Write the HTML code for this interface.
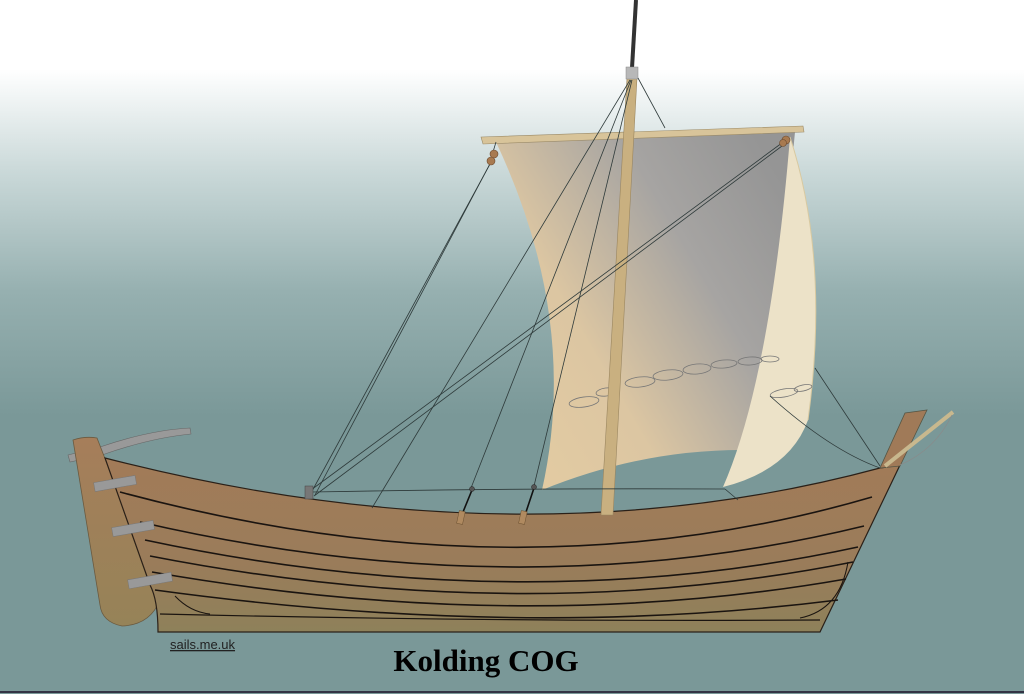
<!DOCTYPE html>
<html><head><meta charset="utf-8"><style>html,body{margin:0;padding:0;background:#7a9898}svg{display:block}</style></head>
<body>
<svg width="1024" height="694" viewBox="0 0 1024 694" xmlns="http://www.w3.org/2000/svg">
<defs>
<linearGradient id="sky" x1="0" y1="0" x2="0" y2="1">
<stop offset="0" stop-color="#ffffff"/>
<stop offset="0.1" stop-color="#ffffff"/>
<stop offset="0.25" stop-color="#c9d8d8"/>
<stop offset="0.42" stop-color="#96b0b0"/>
<stop offset="0.6" stop-color="#7a9898"/>
<stop offset="1" stop-color="#7a9898"/>
</linearGradient>
<linearGradient id="hull" x1="0" y1="0" x2="0" y2="1">
<stop offset="0" stop-color="#a27b58"/>
<stop offset="0.6" stop-color="#9a7c5a"/>
<stop offset="1" stop-color="#8e815a"/>
</linearGradient>
<linearGradient id="sail" x1="0" y1="0.9" x2="1" y2="0.2">
<stop offset="0" stop-color="#e4cca2"/>
<stop offset="0.35" stop-color="#dcc6a2"/>
<stop offset="0.7" stop-color="#a6a4a2"/>
<stop offset="1" stop-color="#959595"/>
</linearGradient>
<linearGradient id="rud" x1="0" y1="0" x2="0" y2="1">
<stop offset="0" stop-color="#a67e5a"/>
<stop offset="1" stop-color="#968358"/>
</linearGradient>
</defs>
<rect width="1024" height="694" fill="url(#sky)"/>
<line x1="0" y1="692" x2="1024" y2="692" stroke="#334" stroke-width="2"/>

<path d="M68,455 L100,447 Q150,430 190,428 L191,434 Q150,438 102,455 L70,462 Z" fill="#999" stroke="#666" stroke-width="0.6"/>
<path d="M73,440 Q85,436 97,438 L160,600 Q150,625 122,626 Q102,622 100,605 Z" fill="url(#rud)" stroke="#6a5a40" stroke-width="0.8"/>

<path d="M105,458 Q520,565 880,468 L900,465 L820,632 L158,632 Q158,600 150,585 Z" fill="url(#hull)" stroke="#2a2018" stroke-width="1.2"/>
<g fill="none" stroke="#1a1410" stroke-width="1.6">
<path d="M120,492 Q520,600 872,497"/>
<path d="M140,522 Q520,610 864,526"/>
<path d="M145,540 Q520,620 858,547"/>
<path d="M150,556 Q520,628 853,562"/>
<path d="M152,572 Q520,636 846,579"/>
<path d="M155,590 Q520,640 838,600"/>
<path d="M160,614 Q500,622 820,620" stroke-width="1.2"/>
<path d="M175,596 Q190,612 210,614" stroke-width="1"/>
<path d="M848,562 Q840,610 800,618" stroke-width="1"/>
</g>
<g fill="#999" stroke="#777" stroke-width="0.5">
<rect x="94" y="479" width="42" height="9" transform="rotate(-10 115 483)"/>
<rect x="112" y="524" width="42" height="9" transform="rotate(-10 133 528)"/>
<rect x="128" y="576" width="44" height="9" transform="rotate(-10 150 580)"/>
</g>

<path d="M880,468 L905,413 L927,410 L900,466 Z" fill="#a07a58" stroke="#554" stroke-width="0.8"/>
<line x1="885" y1="466" x2="953" y2="412" stroke="#c8b88e" stroke-width="4"/>
<path d="M900,465 Q935,450 952,415" fill="none" stroke="#8a8a8a" stroke-width="0.7"/>

<line x1="636" y1="0" x2="632" y2="68" stroke="#333" stroke-width="4"/>

<path d="M496,142 L795,132 Q780,300 742,450 Q640,450 542,490 Q580,320 496,142 Z" fill="url(#sail)"/>
<path d="M790,137 Q830,260 808,420 Q790,470 723,487 Q770,380 790,137 Z" fill="#ece2c8"/>
<path d="M790,137 Q830,260 808,420" fill="none" stroke="#d8c9a0" stroke-width="1"/>

<g fill="none" stroke="#777" stroke-width="0.8">
<ellipse cx="584" cy="402" rx="15" ry="5" transform="rotate(-8 584 402)"/>
<ellipse cx="606" cy="392" rx="10" ry="4" transform="rotate(-8 606 392)"/>
<ellipse cx="640" cy="382" rx="15" ry="5" transform="rotate(-6 640 382)"/>
<ellipse cx="668" cy="375" rx="15" ry="5" transform="rotate(-6 668 375)"/>
<ellipse cx="697" cy="369" rx="14" ry="5" transform="rotate(-5 697 369)"/>
<ellipse cx="724" cy="364" rx="13" ry="4" transform="rotate(-5 724 364)"/>
<ellipse cx="750" cy="361" rx="12" ry="4" transform="rotate(-4 750 361)"/>
<ellipse cx="770" cy="359" rx="9" ry="3"/>
<ellipse cx="784" cy="393" rx="14" ry="4" transform="rotate(-10 784 393)"/>
<ellipse cx="803" cy="388" rx="9" ry="3" transform="rotate(-12 803 388)"/>
</g>

<path d="M481,137 L803,126 L804,132 L483,144 Z" fill="#d8c49a" stroke="#9a8a68" stroke-width="0.6"/>

<path d="M627,78 L637,78 L613,515 L601,515 Z" fill="#c9b080" stroke="#9a8660" stroke-width="0.6"/>
<rect x="626" y="67" width="12" height="12" fill="#b8b8b8" stroke="#888" stroke-width="0.5"/>

<g fill="none" stroke="#2e3a3a" stroke-width="0.8">
<path d="M630,80 L372,508"/>
<path d="M631,80 L471,488"/>
<path d="M632,80 L534,486"/>
<path d="M638,78 L665,128"/>
<path d="M496,153 L311,493"/>
<path d="M492,160 L315,495"/>
<path d="M786,140 L311,490"/>
<path d="M782,146 L314,496"/>
<path d="M496,142 L493,152"/>
<path d="M312,492 Q520,488 725,489"/>
<path d="M725,489 L738,500"/>
<path d="M770,396 Q830,450 880,468"/>
<path d="M815,368 L880,466"/>
</g>
<g fill="#a87a50" stroke="#6a4a30" stroke-width="0.6">
<ellipse cx="494" cy="154" rx="4" ry="4"/>
<ellipse cx="491" cy="161" rx="4" ry="4"/>
<ellipse cx="786" cy="140" rx="4" ry="4"/>
<ellipse cx="783" cy="143" rx="3.5" ry="3.5"/>
</g>
<rect x="305" y="486" width="8" height="13" fill="#777" stroke="#444" stroke-width="0.5"/>
<g stroke="#111" stroke-width="1.6"><line x1="472" y1="490" x2="463" y2="512"/><line x1="534" y1="488" x2="526" y2="512"/></g>
<g fill="#555" stroke="#222" stroke-width="0.5"><circle cx="472" cy="489" r="2.5"/><circle cx="534" cy="487" r="2.5"/></g>
<g fill="#b08a60" stroke="#6a5030" stroke-width="0.5"><rect x="458" y="511" width="6" height="13" transform="rotate(12 461 517)"/><rect x="520" y="511" width="6" height="13" transform="rotate(12 523 517)"/></g>

<text x="170" y="649" font-family="Liberation Sans, sans-serif" font-size="13" fill="#222" text-decoration="underline">sails.me.uk</text>
<text x="486" y="671" text-anchor="middle" font-family="Liberation Serif, serif" font-weight="bold" font-size="31" fill="#000">Kolding COG</text>
</svg>
</body></html>
